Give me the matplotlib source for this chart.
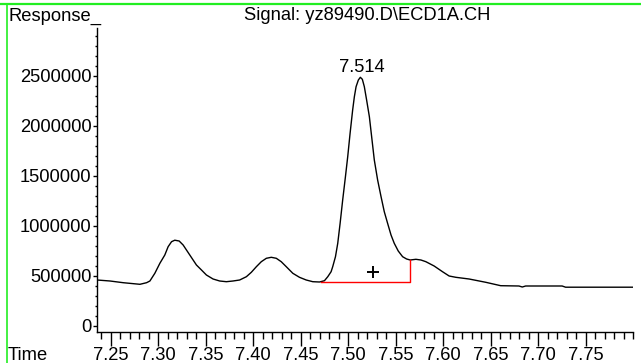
import numpy as np
import matplotlib
matplotlib.use("Agg")
import matplotlib.pyplot as plt
from matplotlib.lines import Line2D
from matplotlib.ticker import MultipleLocator

plt.rcParams['font.family'] = ['Liberation Sans', 'DejaVu Sans']

# chromatogram trace (minutes, response)
time = [7.2356, 7.2493, 7.2632, 7.2808, 7.2878, 7.2913, 7.2965, 7.3018, 7.3070,
        7.3105, 7.3141, 7.3175, 7.3221, 7.3263, 7.3298, 7.3333, 7.3368, 7.3403,
        7.3456, 7.3508, 7.3578, 7.3648, 7.3718, 7.3788, 7.3858, 7.3929, 7.3981,
        7.4034, 7.4086, 7.4139, 7.4191, 7.4244, 7.4296, 7.4349, 7.4418, 7.4488,
        7.4559, 7.4628, 7.4699, 7.4751, 7.4786, 7.4821, 7.4838, 7.4867, 7.4891,
        7.4916, 7.4943, 7.4972, 7.4996, 7.5021, 7.5048, 7.5066, 7.5084, 7.5108,
        7.5129, 7.5150, 7.5171, 7.5195, 7.5224, 7.5248, 7.5276, 7.5311, 7.5347,
        7.5381, 7.5416, 7.5452, 7.5486, 7.5528, 7.5574, 7.5616, 7.5654, 7.5714,
        7.5767, 7.5819, 7.5906, 7.5994, 7.6064, 7.6134, 7.6274, 7.6450, 7.6607,
        7.6799, 7.6834, 7.6870, 7.7254, 7.7290, 7.8000]
response = [460000, 450000, 433000, 417000, 433000, 450000, 527000, 627000, 710000,
            793000, 843000, 858000, 850000, 810000, 760000, 710000, 660000, 610000,
            560000, 510000, 470000, 450000, 443000, 450000, 460000, 493000, 537000,
            593000, 643000, 677000, 687000, 677000, 643000, 593000, 527000, 487000,
            460000, 443000, 440000, 453000, 493000, 543000, 593000, 693000, 827000,
            1027000, 1260000, 1493000, 1693000, 1927000, 2160000, 2293000, 2393000, 2460000,
            2487000, 2467000, 2393000, 2260000, 2093000, 1893000, 1660000, 1460000, 1293000,
            1143000, 1027000, 910000, 827000, 750000, 693000, 670000, 660000, 667000,
            660000, 643000, 600000, 543000, 500000, 487000, 470000, 437000, 403000,
            400000, 390000, 400000, 400000, 388000, 388000]

# integration baseline of the labelled peak
int_start = 7.4716
int_end = 7.5654
int_base = 440000
int_top = 660000
peak_rt = "7.514"
peak_label_y = 2590000
plus_pos = (7.5258, 543000)

title = "Signal: yz89490.D\\ECD1A.CH"
fs = 13.2

fig = plt.figure(figsize=(6.41, 3.63), dpi=100)
W, H = 641, 363
ax = fig.add_axes([97 / W, (H - 332) / H, (633 - 97) / W, (332 - 28) / H])

ax.plot(time, response, color='black', lw=1.0)
ax.plot([int_start, int_end, int_end], [int_base, int_base, int_top],
        color='red', lw=1.0)
ax.plot(*plus_pos, marker='+', color='black', ms=8, mew=1.4)
ax.text(7.514, peak_label_y, peak_rt, ha='center', va='center', fontsize=fs)

ax.set_xlim(7.2356, 7.80)
ax.set_ylim(-60000, 2980000)
ax.spines['top'].set_visible(False)
ax.spines['right'].set_visible(False)
for s in ('left', 'bottom'):
    ax.spines[s].set_linewidth(1.0)

ax.set_xticks([7.25, 7.30, 7.35, 7.40, 7.45, 7.50, 7.55, 7.60, 7.65, 7.70, 7.75])
ax.set_xticklabels(['7.25', '7.30', '7.35', '7.40', '7.45', '7.50', '7.55',
                    '7.60', '7.65', '7.70', '7.75'])
ax.xaxis.set_minor_locator(MultipleLocator(0.01))
ax.set_yticks([0, 500000, 1000000, 1500000, 2000000, 2500000])
ax.set_yticklabels(['0', '500000', '1000000', '1500000', '2000000', '2500000'])
ax.yaxis.set_minor_locator(MultipleLocator(100000))

ax.tick_params(axis='x', which='major', direction='out', length=10, width=1,
               labelsize=fs, pad=0.5)
ax.tick_params(axis='x', which='minor', direction='out', length=5, width=1)
ax.tick_params(axis='y', which='major', direction='out', length=3, width=1,
               labelsize=fs, pad=1)
ax.tick_params(axis='y', which='minor', direction='out', length=1.5, width=1)

fig.text(8 / W, 1 - 16 / H, "Response_", ha='left', va='center', fontsize=fs)
fig.text(367 / W, 1 - 16 / H, title, ha='center', va='center', fontsize=fs)
fig.text(8 / W, 1 - 360 / H, "Time", ha='left', va='baseline', fontsize=fs)

# green frame edge visible at top and left
fig.add_artist(Line2D([0, 1], [1 - 3.5 / H, 1 - 3.5 / H], transform=fig.transFigure,
                      color='#22ee22', lw=1.6))
fig.add_artist(Line2D([6.5 / W, 6.5 / W], [0, 1 - 3.5 / H], transform=fig.transFigure,
                      color='#22ee22', lw=1.2))

fig.savefig("out.png", dpi=100)
